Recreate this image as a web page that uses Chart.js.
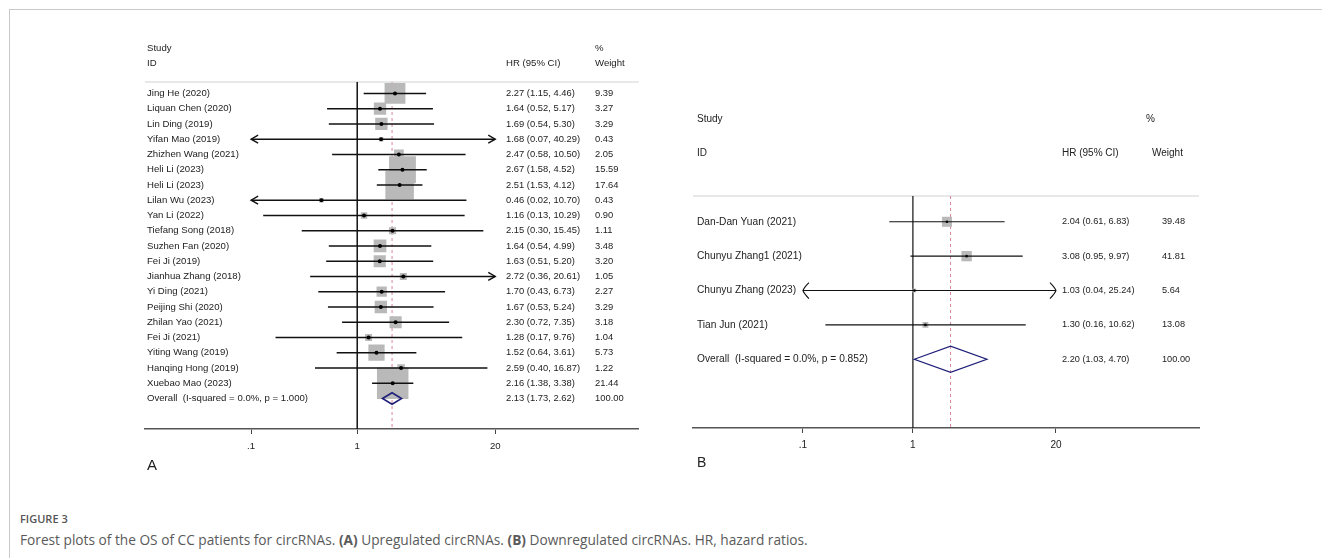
<!DOCTYPE html>
<html lang="en">
<head>
<meta charset="UTF-8" />
<title>Forest plots</title>
<script src="https://cdn.jsdelivr.net/npm/chart.js"></script>
<style>
  body { margin: 0; background: #fff; width: 1322px; height: 558px; overflow: hidden; position: relative; }
  #frame { position: absolute; left: 9px; top: 9px; width: 1400px; height: 700px; border: 1px solid #c9c9c9; }
  canvas { position: absolute; top: 0; }
  #cA { left: 0; }
  #cB { left: 661px; }
  #figno { position: absolute; left: 20px; top: 511px; font: 600 11px "Open Sans", sans-serif; color: #555; }
  #caption { position: absolute; left: 20px; top: 530px; font: 13.7px "Open Sans", sans-serif; color: #5a5a5a; white-space: nowrap; }
</style>
<script>
  // panel A: upregulated circRNAs
  var studyA = ["Jing He (2020)", "Liquan Chen (2020)", "Lin Ding (2019)", "Yifan Mao (2019)", "Zhizhen Wang (2021)",
    "Heli Li (2023)", "Heli Li (2023)", "Lilan Wu (2023)", "Yan Li (2022)", "Tiefang Song (2018)",
    "Suzhen Fan (2020)", "Fei Ji (2019)", "Jianhua Zhang (2018)", "Yi Ding (2021)", "Peijing Shi (2020)",
    "Zhilan Yao (2021)", "Fei Ji (2021)", "Yiting Wang (2019)", "Hanqing Hong (2019)", "Xuebao Mao (2023)"];
  var hrA = [2.27, 1.64, 1.69, 1.68, 2.47, 2.67, 2.51, 0.46, 1.16, 2.15, 1.64, 1.63, 2.72, 1.70, 1.67, 2.30, 1.28, 1.52, 2.59, 2.16];
  var lowA = [1.15, 0.52, 0.54, 0.07, 0.58, 1.58, 1.53, 0.02, 0.13, 0.30, 0.54, 0.51, 0.36, 0.43, 0.53, 0.72, 0.17, 0.64, 0.40, 1.38];
  var highA = [4.46, 5.17, 5.30, 40.29, 10.50, 4.52, 4.12, 10.70, 10.29, 15.45, 4.99, 5.20, 20.61, 6.73, 5.24, 7.35, 9.76, 3.61, 16.87, 3.38];
  var weightA = [9.39, 3.27, 3.29, 0.43, 2.05, 15.59, 17.64, 0.43, 0.90, 1.11, 3.48, 3.20, 1.05, 2.27, 3.29, 3.18, 1.04, 5.73, 1.22, 21.44];
  var overallA = [2.13, 1.73, 2.62];
  var overallLabelA = "Overall  (I-squared = 0.0%, p = 1.000)";

  // panel B: downregulated circRNAs
  var studyB = ["Dan-Dan Yuan (2021)", "Chunyu Zhang1 (2021)", "Chunyu Zhang (2023)", "Tian Jun (2021)"];
  var hrB = [2.04, 3.08, 1.03, 1.30];
  var lowB = [0.61, 0.95, 0.04, 0.16];
  var highB = [6.83, 9.97, 25.24, 10.62];
  var weightB = [39.48, 41.81, 5.64, 13.08];
  var overallB = [2.20, 1.03, 4.70];
  var overallLabelB = "Overall  (I-squared = 0.0%, p = 0.852)";

  var tickVals = [0.1, 1, 20];
  var tickLabels = [".1", "1", "20"];
</script>
</head>
<body>
<div id="frame"></div>
<canvas id="cA" width="661" height="490"></canvas>
<canvas id="cB" width="661" height="490"></canvas>
<div id="figno">FIGURE 3</div>
<div id="caption">Forest plots of the OS of CC patients for circRNAs. <b>(A)</b> Upregulated circRNAs. <b>(B)</b> Downregulated circRNAs. HR, hazard ratios.</div>

<script>
  var fmt = function (v) { return v.toFixed(2); };
  var FAM = '"Liberation Sans", Arial, sans-serif';

  function line(ctx, x0, y0, x1, y1) {
    ctx.beginPath();
    ctx.moveTo(x0, y0);
    ctx.lineTo(x1, y1);
    ctx.stroke();
  }

  function arrow(ctx, xt, y, dir, curved) {
    // dir -1 = pointing left, +1 = pointing right
    ctx.beginPath();
    if (curved) {
      ctx.moveTo(xt - dir * 6, y - 8);
      ctx.quadraticCurveTo(xt - dir * 1, y - 3, xt, y);
      ctx.quadraticCurveTo(xt - dir * 1, y + 3, xt - dir * 6, y + 8);
    } else {
      ctx.moveTo(xt - dir * 7, y - 4);
      ctx.lineTo(xt, y);
      ctx.lineTo(xt - dir * 7, y + 4);
    }
    ctx.stroke();
  }

  function forestPlugin(p) {
    return {
      id: "forest",
      beforeDatasetsDraw: function (chart) {
        var ctx = chart.ctx, a = chart.chartArea, x = chart.scales.x;
        ctx.save();
        ctx.strokeStyle = "#d2d2d2";
        ctx.lineWidth = 1;
        line(ctx, a.left, a.top, a.right, a.top);
        var xo = x.getPixelForValue(p.overall[0]);
        ctx.strokeStyle = "#d9879a";
        ctx.setLineDash([3, 3]);
        line(ctx, xo, a.top, xo, a.bottom);
        ctx.setLineDash([]);
        var x1 = x.getPixelForValue(1);
        ctx.strokeStyle = "#111";
        ctx.lineWidth = p.nullWidth;
        line(ctx, x1, a.top, x1, a.bottom);
        ctx.restore();
      },
      afterDatasetDraw: function (chart, args) {
        if (args.index !== 1) return;
        var ctx = chart.ctx, x = chart.scales.x, y = chart.scales.y;
        ctx.save();
        ctx.strokeStyle = "#111";
        ctx.lineWidth = p.ciWidth;
        for (var i = 0; i < p.hr.length; i++) {
          var lo = Math.max(p.low[i], tickVals[0]);
          var hi = Math.min(p.high[i], tickVals[tickVals.length - 1]);
          var yy = y.getPixelForValue(i);
          var x0 = x.getPixelForValue(lo), x1 = x.getPixelForValue(hi);
          line(ctx, x0, yy, x1, yy);
          if (p.low[i] < lo) arrow(ctx, x0, yy, -1, p.curved);
          if (p.high[i] > hi) arrow(ctx, x1, yy, 1, p.curved);
        }
        ctx.restore();
      },
      afterDatasetsDraw: function (chart) {
        var ctx = chart.ctx, x = chart.scales.x, y = chart.scales.y;
        var row = p.hr.length;
        var yc = y.getPixelForValue(row);
        var h = Math.abs(y.getPixelForValue(row + 0.38) - yc);
        ctx.save();
        ctx.strokeStyle = "#20207a";
        ctx.lineWidth = p.diamondWidth;
        ctx.beginPath();
        ctx.moveTo(x.getPixelForValue(p.overall[1]), yc);
        ctx.lineTo(x.getPixelForValue(p.overall[0]), yc - h);
        ctx.lineTo(x.getPixelForValue(p.overall[2]), yc);
        ctx.lineTo(x.getPixelForValue(p.overall[0]), yc + h);
        ctx.closePath();
        ctx.stroke();
        ctx.restore();
      },
      afterDraw: function (chart) {
        var ctx = chart.ctx, y = chart.scales.y;
        ctx.save();
        ctx.fillStyle = "#222";
        ctx.textBaseline = "middle";
        ctx.textAlign = "left";
        ctx.font = p.fsHead + "px " + FAM;
        ctx.fillText("Study", p.colStudy, p.headY[0]);
        ctx.fillText("ID", p.colStudy, p.headY[1]);
        ctx.fillText("HR (95% CI)", p.colHr, p.headY[1]);
        ctx.fillText("%", p.colPct, p.headY[0]);
        ctx.fillText("Weight", p.colWHead, p.headY[1]);
        var yo = y.getPixelForValue(p.hr.length);
        ctx.font = p.fs + "px " + FAM;
        for (var i = 0; i < p.hr.length; i++) {
          ctx.fillText(p.study[i], p.colStudy, y.getPixelForValue(i));
        }
        ctx.fillText(p.overallLabel, p.colStudy, yo);
        ctx.font = p.fsNum + "px " + FAM;
        for (var j = 0; j < p.hr.length; j++) {
          var yy = y.getPixelForValue(j);
          ctx.fillText(fmt(p.hr[j]) + " (" + fmt(p.low[j]) + ", " + fmt(p.high[j]) + ")", p.colHr, yy);
          ctx.fillText(fmt(p.weight[j]), p.colW, yy);
        }
        ctx.fillText(fmt(p.overall[0]) + " (" + fmt(p.overall[1]) + ", " + fmt(p.overall[2]) + ")", p.colHr, yo);
        ctx.fillText("100.00", p.colW, yo);
        ctx.font = p.letterFs + "px " + FAM;
        ctx.fillText(p.letter, p.colStudy, p.letterY);
        ctx.restore();
      }
    };
  }

  function makeChart(id, p) {
    var pts = p.hr.map(function (v, i) { return { x: v, y: i }; });
    return new Chart(document.getElementById(id), {
      type: "scatter",
      data: {
        datasets: [
          {
            label: "HR",
            data: pts,
            pointStyle: "circle",
            pointRadius: p.dot,
            backgroundColor: "#000",
            borderWidth: 0
          },
          {
            label: "weight",
            data: pts,
            pointStyle: "rect",
            pointRadius: p.weight.map(function (w) { return p.boxK * Math.sqrt(w) / Math.SQRT2; }),
            backgroundColor: "#b9b9b9",
            borderWidth: 0
          }
        ]
      },
      options: {
        responsive: false,
        animation: false,
        events: [],
        layout: { padding: p.pad },
        plugins: { legend: { display: false }, tooltip: { enabled: false } },
        scales: {
          x: {
            type: "logarithmic",
            position: "bottom",
            min: p.xMin,
            max: p.xMax,
            afterBuildTicks: function (s) { s.ticks = tickVals.map(function (v) { return { value: v }; }); },
            afterFit: function (s) { s.height = 30; },
            ticks: {
              autoSkip: false,
              maxRotation: 0,
              padding: p.tickPad,
              color: "#222",
              font: { family: FAM, size: p.fsHead },
              callback: function (v, i) { return tickLabels[i]; }
            },
            grid: { drawOnChartArea: false, drawTicks: true, tickLength: 5, tickColor: "#444", tickWidth: 1 },
            border: { display: true, color: "#555", width: 1.6 }
          },
          y: {
            type: "linear",
            display: false,
            reverse: true,
            min: -0.75,
            max: p.hr.length + 2
          }
        }
      },
      plugins: [forestPlugin(p)]
    });
  }

  makeChart("cA", {
    study: studyA, hr: hrA, low: lowA, high: highA, weight: weightA,
    overall: overallA, overallLabel: overallLabelA,
    xMin: 0.01, xMax: 450,
    pad: { left: 145, right: 18, top: 82, bottom: 31 },
    fs: 9.6, fsNum: 9.4, fsHead: 9.6, letterFs: 15, tickPad: 7,
    colStudy: 147, colHr: 506, colW: 595, colPct: 595, colWHead: 595, headY: [48, 63],
    letter: "A", letterY: 466,
    boxK: 6.8, dot: 2, ciWidth: 1.4, nullWidth: 1.5, diamondWidth: 1.6, curved: false
  });

  makeChart("cB", {
    study: studyB, hr: hrB, low: lowB, high: highB, weight: weightB,
    overall: overallB, overallLabel: overallLabelB,
    xMin: 0.01, xMax: 400,
    pad: { left: 32, right: 123, top: 196, bottom: 32 },
    fs: 10.2, fsNum: 9.2, fsHead: 10, letterFs: 14, tickPad: 6,
    colStudy: 36, colHr: 401, colW: 501, colPct: 485, colWHead: 491, headY: [119, 153],
    letter: "B", letterY: 463,
    boxK: 1.6, dot: 1.3, ciWidth: 1.1, nullWidth: 1.2, diamondWidth: 1.3, curved: true
  });
</script>
</body>
</html>
